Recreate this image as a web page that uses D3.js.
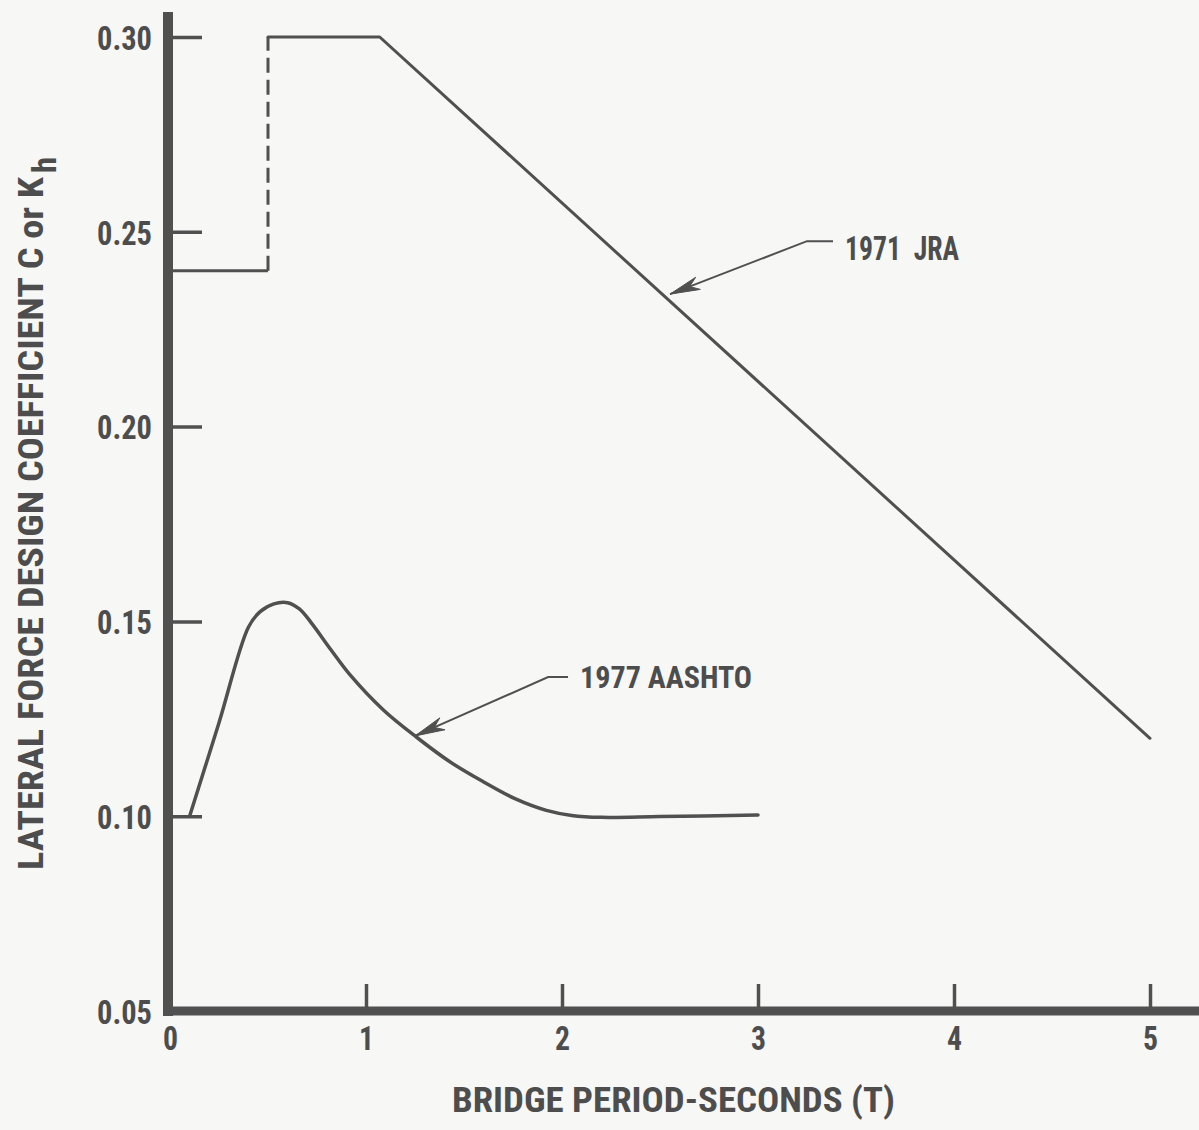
<!DOCTYPE html>
<html>
<head>
<meta charset="utf-8">
<script src="https://cdn.jsdelivr.net/npm/d3@7"></script>
<style>
  html, body { margin: 0; padding: 0; background: #f7f7f6; }
  svg { display: block; }
  text { font-family: "Liberation Sans Narrow", "Roboto Condensed", "DejaVu Sans Condensed", "Liberation Sans", sans-serif; font-weight: bold; fill: #4d4d4d; }
</style>
</head>
<body>
<svg id="chart" width="1199" height="1130"></svg>
<script>
// ---------- data ----------
const xTicks = [0, 1, 2, 3, 4, 5];
const yTicks = [0.05, 0.10, 0.15, 0.20, 0.25, 0.30];
const yTickLabels = ["0.05", "0.10", "0.15", "0.20", "0.25", "0.30"];
const xTickLabels = ["0", "1", "2", "3", "4", "5"];

// 1971 JRA
const jraLowT = [0, 0.5];
const jraLowC = [0.24, 0.24];
const jraJumpT = [0.5, 0.5];
const jraJumpC = [0.24, 0.30];
const jraHighT = [0.5, 1.07, 5.0];
const jraHighC = [0.30, 0.30, 0.12];

// 1977 AASHTO
const aashtoT = [0.10, 0.25, 0.40, 0.46, 0.53, 0.60, 0.66, 0.72, 0.82, 0.92, 1.09, 1.26, 1.43, 1.60, 1.76, 1.92, 2.05, 2.20, 2.50, 3.00];
const aashtoC = [0.100, 0.124, 0.1485, 0.1525, 0.1545, 0.1548, 0.1532, 0.1497, 0.1428, 0.1362, 0.1272, 0.1202, 0.1139, 0.1088, 0.1045, 0.1015, 0.1002, 0.0997, 0.0999, 0.1003];

// annotations
const annLabels = ["1971  JRA", "1977 AASHTO"];
const annTipT = [2.551, 1.25];
const annTipC = [0.2340, 0.1206];
const annElbowT = [3.25, 1.929];
const annElbowC = [0.2476, 0.1357];
const annTextT = [3.444, 2.092];
const annTextC = [0.2428, 0.1329];

const xTitle = "BRIDGE PERIOD-SECONDS (T)";
const yTitle = "LATERAL FORCE DESIGN COEFFICIENT C or K";
const yTitleSub = "h";

// ---------- drawing ----------
const svg = d3.select("#chart");
const ink = "#505050";
const x = d3.scaleLinear().domain([0, 5]).range([170, 1150]);
const y = d3.scaleLinear().domain([0.05, 0.30]).range([1011, 37]);

// Y axis ticks + labels
const yAxis = d3.axisLeft(y).tickValues(yTicks)
  .tickFormat(d => yTickLabels[yTicks.findIndex(v => Math.abs(v - d) < 1e-9)])
  .tickSizeInner(-34).tickSizeOuter(0).tickPadding(16);
const gy = svg.append("g").attr("transform", "translate(168,0)").call(yAxis);
gy.attr("font-size", null).attr("font-family", null);
gy.select(".domain").remove();
gy.selectAll(".tick line").attr("stroke", ink).attr("stroke-width", 3.5)
  .filter(d => Math.abs(d - 0.05) < 1e-9).remove();
gy.selectAll(".tick text").style("font-size", "34px").attr("fill", "#4d4d4d")
  .attr("dy", "0.36em").attr("textLength", 55).attr("lengthAdjust", "spacingAndGlyphs");

// X axis ticks + labels
const xAxis = d3.axisBottom(x).tickValues(xTicks)
  .tickFormat((d, i) => xTickLabels[i])
  .tickSizeInner(-27).tickSizeOuter(0).tickPadding(15);
const gx = svg.append("g").attr("transform", "translate(0,1011)").call(xAxis);
gx.attr("font-size", null).attr("font-family", null);
gx.select(".domain").remove();
gx.selectAll(".tick line").attr("stroke", ink).attr("stroke-width", 3.5)
  .filter(d => d === 0).remove();
gx.selectAll(".tick text").style("font-size", "34px").attr("fill", "#4d4d4d")
  .attr("textLength", 15).attr("lengthAdjust", "spacingAndGlyphs");

// thick axis lines
svg.append("line").attr("x1", 168).attr("x2", 168).attr("y1", 12).attr("y2", 1016)
  .attr("stroke", ink).attr("stroke-width", 10);
svg.append("line").attr("x1", 163).attr("x2", 1199).attr("y1", 1011).attr("y2", 1011)
  .attr("stroke", ink).attr("stroke-width", 9);

const zip = (ts, cs) => ts.map((t, i) => [t, cs[i]]);
const lineLin = d3.line().x(d => x(d[0])).y(d => y(d[1]));
const lineCurve = d3.line().x(d => x(d[0])).y(d => y(d[1])).curve(d3.curveCatmullRom.alpha(0.5));

// JRA
svg.append("path").attr("d", lineLin(zip(jraLowT, jraLowC)))
  .attr("fill", "none").attr("stroke", ink).attr("stroke-width", 3);
svg.append("path").attr("d", lineLin(zip(jraJumpT, jraJumpC)))
  .attr("fill", "none").attr("stroke", ink).attr("stroke-width", 3)
  .attr("stroke-dasharray", "15,7");
svg.append("path").attr("d", lineLin(zip(jraHighT, jraHighC)))
  .attr("fill", "none").attr("stroke", ink).attr("stroke-width", 3)
  .attr("stroke-linejoin", "round").attr("stroke-linecap", "round");

// AASHTO
svg.append("path").attr("d", lineCurve(zip(aashtoT, aashtoC)))
  .attr("fill", "none").attr("stroke", ink).attr("stroke-width", 3.5)
  .attr("stroke-linejoin", "round").attr("stroke-linecap", "round");

// annotations
const annWidths = [114, 172];
const annSizes = [33, 31];
annLabels.forEach((lab, i) => {
  const tx = x(annTipT[i]), ty = y(annTipC[i]);
  const ex = x(annElbowT[i]), ey = y(annElbowC[i]);
  const lx = x(annTextT[i]), ly = y(annTextC[i]);
  svg.append("path")
    .attr("d", `M${lx - 12},${ey}L${ex},${ey}L${tx},${ty}`)
    .attr("fill", "none").attr("stroke", ink).attr("stroke-width", 2);
  const ang = Math.atan2(ey - ty, ex - tx);
  const L = 30, W = 6.5, N = 21;
  const ux = Math.cos(ang), uy = Math.sin(ang);
  const px = -uy, py = ux;
  const pts = [
    [tx, ty],
    [tx + ux * L + px * W, ty + uy * L + py * W],
    [tx + ux * N, ty + uy * N],
    [tx + ux * L - px * W, ty + uy * L - py * W]
  ];
  svg.append("path").attr("d", "M" + pts.map(p => p.join(",")).join("L") + "Z")
    .attr("fill", ink).attr("stroke", ink).attr("stroke-width", 1);
  svg.append("text").attr("x", lx).attr("y", ly)
    .attr("font-size", annSizes[i]).style("white-space", "pre")
    .attr("textLength", annWidths[i]).attr("lengthAdjust", "spacingAndGlyphs")
    .text(lab);
});

// axis titles
svg.append("text").attr("x", 452).attr("y", 1112)
  .attr("font-size", 35).attr("textLength", 443).attr("lengthAdjust", "spacingAndGlyphs")
  .text(xTitle);

const yt = svg.append("text").attr("transform", "translate(43,870) rotate(-90)")
  .attr("font-size", 35);
yt.append("tspan").attr("textLength", 693).attr("lengthAdjust", "spacingAndGlyphs").text(yTitle);
yt.append("tspan").attr("dx", 4).attr("dy", 13).attr("font-size", 33).text(yTitleSub);
</script>
</body>
</html>
